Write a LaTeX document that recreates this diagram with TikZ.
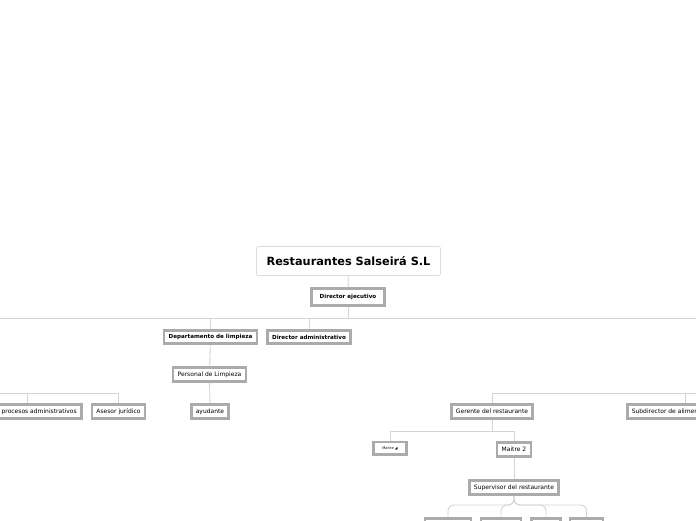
\documentclass[tikz,border=0pt]{standalone}
\usepackage{fontspec}
\setmainfont{DejaVu Sans}
\usetikzlibrary{positioning}

\definecolor{framegrey}{HTML}{ABABAB}
\definecolor{linkgrey}{HTML}{D4D4D4}
\definecolor{titlegrey}{HTML}{DCDCDC}

\begin{document}
\begin{tikzpicture}[x=1pt, y=-1pt,
  root/.style={rectangle, draw=titlegrey, line width=0.8pt, rounded corners=2pt, fill=white, minimum width=184pt, minimum height=29pt, font=\fontsize{11.3}{13}\selectfont\bfseries},
  topic/.style={rectangle, draw=framegrey, line width=2.6pt, fill=white, minimum height=14.4pt, inner xsep=4.5pt, inner ysep=1pt, font=\fontsize{6}{7}\selectfont},
  headtopic/.style={topic, minimum height=13.4pt, font=\fontsize{5.6}{7}\selectfont\bfseries},
  link/.style={draw=linkgrey, line width=0.9pt}
]
\useasboundingbox (0,0) rectangle (696,520);
\clip (0,0) rectangle (696,520);

% top of the map
\node[root] (empresa) at (348.5,261) {Restaurantes Salseirá S.L};
\node[headtopic, minimum width=73pt, minimum height=17.4pt] (ejecutivo) at (348,297) {Director ejecutivo};

\node[headtopic] (limpieza) at (210.5,337) {Departamento de limpieza};
\node[headtopic] (administrativo) at (309,337) {Director administrativo};
\node[topic] (personal) at (209.5,374.5) {Personal de Limpieza};
\node[topic] (ayudante) at (210,411.5) {ayudante};

% left branch (parent off the page)
\node[topic, anchor=east] (procesos) at (82.5,411.5) {Jefe de procesos administrativos};
\node[topic] (asesor) at (118.5,411.5) {Asesor jurídico};

% right branch (parent off the page)
\node[topic] (gerente) at (492,411.5) {Gerente del restaurante};
\node[topic, anchor=west] (subdirector) at (626,411.5) {Subdirector de alimentos y bebidas};
\node[topic, minimum width=33pt, minimum height=12.4pt, font=\fontsize{3.6}{4}\selectfont] (maitre) at (390,448) {Maitre ◢};
\node[topic] (maitre2) at (514,449.5) {Maitre 2};
\node[topic] (supervisor) at (514,487.5) {Supervisor del restaurante};

\node[topic, anchor=north, minimum width=46pt] (mesero1) at (448,517) {};
\node[topic, anchor=north, minimum width=40pt] (mesero2) at (501,517) {};
\node[topic, anchor=north, minimum width=29pt] (mesero3) at (546,517) {};
\node[topic, anchor=north, minimum width=33pt] (mesero4) at (586.5,517) {};

% junctions
\coordinate (bus) at (348,318);
\coordinate (busL) at (-5,318);
\coordinate (busR) at (701,318);
\coordinate (izq) at (-5,393.5);
\coordinate (der) at (701,393.5);
\coordinate (maitres) at (492,431);

\draw[link] (empresa) -- (ejecutivo);
\draw[link] (ejecutivo) -- (bus);
\draw[link] (busL) -- (busR);
\draw[link] (bus) -| (limpieza);
\draw[link] (bus) -| (administrativo);
\draw[link] (limpieza) -- (personal);
\draw[link] (personal) -- (ayudante);

\draw[link] (izq) -| (asesor);
\draw[link] (procesos.north) -- (procesos.north |- izq);
\draw[link] (der) -| (gerente);
\draw[link] (subdirector.north) -- (subdirector.north |- der);

\draw[link] (gerente) -- (maitres);
\draw[link] (maitres) -| (maitre);
\draw[link] (maitres) -| (maitre2);
\draw[link] (maitre2) -- (supervisor);

\foreach \m in {mesero1, mesero2, mesero3, mesero4}
  \draw[link, rounded corners=6pt] (supervisor.south) -- ++(0,9) -| (\m.north);

\end{tikzpicture}
\end{document}
